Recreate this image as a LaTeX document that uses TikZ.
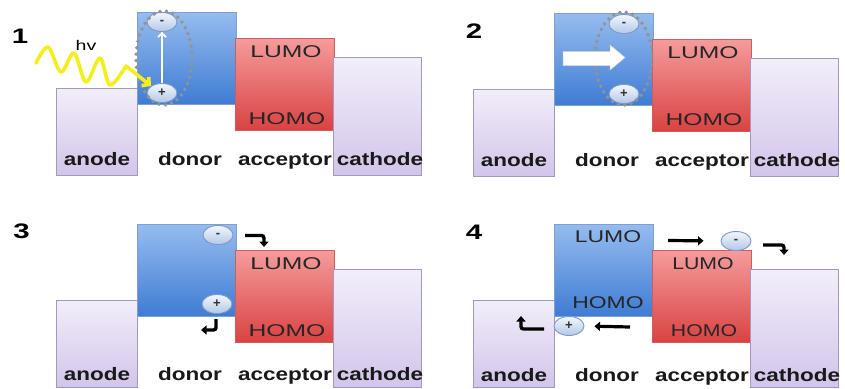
\documentclass[tikz,border=0pt]{standalone}
\usepackage{fontspec}
\setmainfont{Liberation Sans}
\usetikzlibrary{arrows.meta,shapes.geometric}

\definecolor{lavtop}{HTML}{F2EEF9}
\definecolor{lavbot}{HTML}{D2C5EA}
\definecolor{lavedge}{HTML}{A597C4}
\definecolor{dontop}{HTML}{96BCEF}
\definecolor{donbot}{HTML}{3F7CD3}
\definecolor{donedge}{HTML}{7C9FD4}
\definecolor{acctop}{HTML}{F59C9C}
\definecolor{accbot}{HTML}{DA4242}
\definecolor{accedge}{HTML}{CF5C5C}
\definecolor{chgtop}{HTML}{F2F6FC}
\definecolor{chgbot}{HTML}{B3C8E7}
\definecolor{chgedge}{HTML}{7D99C6}
\definecolor{photonyellow}{HTML}{F3EE1E}

% horizontally widened text
\newcommand\stretchtext[2]{\scalebox{#1}[1]{#2}}

\begin{document}
\begin{tikzpicture}[x=1pt,y=-1pt,
  box/.style={rectangle, inner sep=0pt, outer sep=0pt, line width=0.8pt},
  electrode/.style={box, top color=lavtop, bottom color=lavbot, draw=lavedge},
  donorbox/.style={box, top color=dontop, bottom color=donbot, draw=donedge},
  acceptorbox/.style={box, top color=acctop, bottom color=accbot, draw=accedge},
  layerlabel/.style={font=\fontsize{18}{18}\selectfont\bfseries, text=black!90, inner sep=0pt, anchor=base},
  level/.style={font=\fontsize{17}{17}\selectfont, text=black!85, inner sep=0pt},
  charge/.style={ellipse, minimum width=30pt, minimum height=19pt, inner sep=0pt,
    top color=chgtop, bottom color=chgbot, draw=chgedge, line width=0.9pt,
    font=\fontsize{13}{13}\selectfont\bfseries, text=black!80},
  stepnum/.style={font=\fontsize{21}{21}\selectfont\bfseries, inner sep=0pt},
  exciton/.style={draw=gray!85, line width=3.8pt, line cap=round, dash pattern=on 0pt off 6.5pt},
  hookarrow/.style={line width=3.4pt, rounded corners=2.5pt, -{Triangle[length=5.5pt,width=9pt]}},
  flatarrow/.style={line width=3.2pt, -{Triangle[length=5.5pt,width=9pt]}},
  photon/.style={draw=photonyellow, line width=3.6pt, line cap=round, line join=round,
    -{Straight Barb[length=5pt,width=11pt]}},
]
\useasboundingbox[fill=white] (0,0) rectangle (845,388);

% the four energy-level diagrams
\foreach \p/\dx/\dy/\ly/\ls in {1/0/0/165/1.45, 2/417/1/165/1.45, 3/0/212/168.5/1.45, 4/417/212/169/1.25}{
  \begin{scope}[shift={(\dx,\dy)}]
    \node[electrode, minimum width=81pt, minimum height=87pt] (anode\p) at (96.5,131.5) {};
    \node[donorbox, minimum width=99pt, minimum height=92pt] (donor\p) at (186.5,58) {};
    \node[acceptorbox, minimum width=99pt, minimum height=92pt] (acceptor\p) at (284.5,84) {};
    \node[electrode, minimum width=88pt, minimum height=118pt] (cathode\p) at (377,116) {};
    \node[level] (acclumo\p) at (286,52) {\stretchtext{\ls}{LUMO}};
    \node[level] (acchomo\p) at (287,119) {\stretchtext{\ls}{HOMO}};
    \node[layerlabel] (anodelabel\p) at (97,\ly) {\stretchtext{1.25}{anode}};
    \node[layerlabel] (donorlabel\p) at (190,\ly) {\stretchtext{1.25}{donor}};
    \node[layerlabel] (acceptorlabel\p) at (285,\ly) {\stretchtext{1.25}{acceptor}};
    \node[layerlabel] (cathodelabel\p) at (380,\ly) {\stretchtext{1.25}{cathode}};
  \end{scope}
}

% step 1: absorption creates an exciton in the donor
\node[stepnum] (num1) at (20,36) {\stretchtext{1.4}{1}};
\node[charge] (minus1) at (162,22) {-};
\node[charge] (plus1) at (162,93) {+};
\draw[white, line width=1.8pt, -{Straight Barb[length=4pt,width=8pt]}] (plus1.north) -- (minus1.south);
\draw[exciton] (164,58) ellipse [x radius=28, y radius=47];
\node[font=\fontsize{14}{14}\selectfont, inner sep=0pt] (hv) at (86,45) {\stretchtext{1.4}{hv}};
\draw[photon] plot[smooth, tension=0.55] coordinates {(36,63) (48,47) (61,72) (74,53) (86,82) (100,58) (110,85) (126,66)} -- (plus1.north west);

% step 2: exciton diffuses to the interface
\node[stepnum] (num2) at (474,31) {\stretchtext{1.4}{2}};
\node[charge] (minus2) at (624,24) {-};
\node[charge] (plus2) at (624,94) {+};
\draw[exciton] (623.5,58.5) ellipse [x radius=28.5, y radius=46.5];
\filldraw[fill=white, draw=gray!30, line width=0.5pt]
  (563,51.5) -- (610,51.5) -- (610,45) -- (625,57.5) -- (610,70) -- (610,65.5) -- (563,65.5) -- cycle;

% step 3: charge separation at the interface
\node[stepnum] (num3) at (21.5,231) {\stretchtext{1.4}{3}};
\node[charge] (minus3) at (218,235) {-};
\node[charge] (plus3) at (217,304) {+};
\coordinate (m3hook) at (245,235.5);
\draw[hookarrow] (m3hook) -| (264,247);
\coordinate (p3hook) at (216,319);
\draw[hookarrow] (p3hook) |- (201,330);

% step 4: charge transport to the electrodes
\node[stepnum] (num4) at (474,232) {\stretchtext{1.4}{4}};
\node[level] (donlumo4) at (608,237) {\stretchtext{1.35}{LUMO}};
\node[level] (donhomo4) at (608,303) {\stretchtext{1.35}{HOMO}};
\node[charge] (minus4) at (736,241) {-};
\node[charge] (plus4) at (569,326) {+};
\coordinate (e4start) at (668,240.5);
\draw[flatarrow, shorten >=17pt] (e4start) -- (minus4.west);
\coordinate (m4hook) at (763,245);
\draw[hookarrow] (m4hook) -| (784,255);
\coordinate (h4start) at (630,327);
\draw[flatarrow, shorten >=10pt] (h4start) -- (plus4.east);
\coordinate (p4hook) at (544,329);
\draw[hookarrow] (p4hook) -| (521,316);
\end{tikzpicture}
\end{document}
